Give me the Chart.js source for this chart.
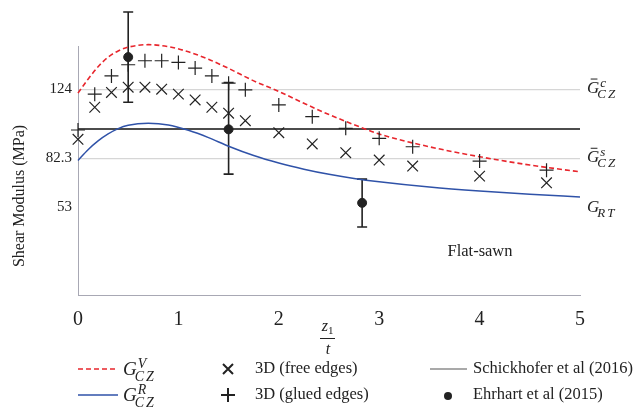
<!DOCTYPE html>
<html>
<head>
<meta charset="utf-8">
<script src="https://cdn.jsdelivr.net/npm/chart.js@4"></script>
<style>
  html, body { margin: 0; padding: 0; background: #fff; }
  #wrap { width: 637px; height: 410px; }
</style>
</head>
<body>
<div id="wrap"><canvas id="myChart" width="637" height="410"></canvas></div>
<script>
// analytical bounds, G_CZ^V (dashed) and G_CZ^R (solid)
const curveX = [0, 0.1, 0.2, 0.3, 0.4, 0.5, 0.7, 0.9, 1.1, 1.3, 1.5, 1.75, 2, 2.25, 2.5, 2.75, 3, 3.5, 4, 4.5, 5];
const gVoigt = [121.6, 130, 137.5, 143.3, 147, 149.3, 150.8, 149.6, 146.5, 142, 136.5, 129, 122.6, 115.5, 108.7, 102.6, 97, 89.3, 83.3, 78.3, 74.2];
const gReuss = [81, 87.5, 92.8, 97, 100.2, 102.2, 103.4, 102.4, 99.2, 94.8, 89.6, 84, 79.5, 75.8, 72.7, 70.2, 68.2, 65, 62.6, 60.7, 59.1];

// 3D finite element results
const feX = [0, 1/6, 1/3, 0.5, 2/3, 5/6, 1, 7/6, 4/3, 1.5, 5/3, 2, 7/3, 8/3, 3, 10/3, 4, 14/3];
const freeEdges = [93.8, 113.1, 122, 125.2, 125.2, 124, 121, 117.5, 113.1, 109.5, 105, 97.8, 91, 85.7, 81.3, 77.7, 71.6, 67.6];
const gluedEdges = [99.4, 121, 132, 138.7, 141.1, 141.1, 140.1, 136.7, 132, 127.6, 123.6, 114.5, 107.4, 100.4, 94.4, 89.3, 80.7, 75.2];

// Ehrhart et al (2015) with error bars
const ehrX = [0.5, 1.5, 2.83];
const ehrMean = [143.3, 99.8, 55.5];
const ehrLow = [116.1, 72.8, 41];
const ehrHigh = [170.5, 128, 69.8];

// Schickhofer et al (2016)
const schickhofer = 100;

const xTicks = [0, 1, 2, 3, 4, 5];
const yTicks = [53, 82.3, 124];   // G_RT, Gs_CZ, Gc_CZ

const serif = '"Liberation Serif", "Times New Roman", serif';
const ink = '#222';
const red = '#e8262d';
const blue = '#2f52a8';

const pts = (xs, ys) => xs.map((x, i) => ({ x: x, y: ys[i] }));

function mathLabel(c, x, y, base, sup, sub, bar, size) {
  c.save();
  c.fillStyle = ink;
  c.textAlign = 'left';
  c.textBaseline = 'alphabetic';
  c.font = 'italic ' + size + 'px ' + serif;
  c.fillText(base, x, y);
  const w = c.measureText(base).width;
  if (bar) c.fillRect(x + w * 0.3, y - size * 0.86, w * 0.55, 1);
  const s = Math.round(size * 0.75);
  c.font = 'italic ' + s + 'px ' + serif;
  c.letterSpacing = '2px';
  if (sup) c.fillText(sup, x + w + 1, y - size * 0.38);
  if (sub) c.fillText(sub, x + w - 2, y + size * 0.3);
  c.restore();
}

const errorBars = {
  id: 'errorBars',
  beforeDatasetsDraw(chart) {
    const c = chart.ctx, xs = chart.scales.x, ys = chart.scales.y;
    c.save();
    c.strokeStyle = ink;
    c.lineWidth = 1.6;
    ehrX.forEach((v, i) => {
      const px = xs.getPixelForValue(v);
      const lo = ys.getPixelForValue(ehrLow[i]);
      const hi = ys.getPixelForValue(ehrHigh[i]);
      c.beginPath();
      c.moveTo(px, lo); c.lineTo(px, hi);
      c.moveTo(px - 5, lo); c.lineTo(px + 5, lo);
      c.moveTo(px - 5, hi); c.lineTo(px + 5, hi);
      c.stroke();
    });
    c.restore();
  }
};

const extras = {
  id: 'extras',
  afterDraw(chart) {
    const c = chart.ctx, ys = chart.scales.y;
    const right = chart.chartArea.right;

    // labels of the reference levels
    mathLabel(c, right + 7, ys.getPixelForValue(yTicks[2]) + 4, 'G', 'c', 'CZ', true, 17);
    mathLabel(c, right + 7, ys.getPixelForValue(yTicks[1]) + 4, 'G', 's', 'CZ', true, 17);
    mathLabel(c, right + 7, ys.getPixelForValue(yTicks[0]) + 5, 'G', '', 'RT', false, 17);

    c.save();
    c.fillStyle = ink;
    // y axis title
    c.translate(20, 196);
    c.rotate(-Math.PI / 2);
    c.font = '16px ' + serif;
    c.textAlign = 'center';
    c.textBaseline = 'middle';
    c.fillText('Shear Modulus (MPa)', 0, 0);
    c.restore();

    c.save();
    c.fillStyle = ink;
    c.textBaseline = 'middle';
    // x axis title z1 / t
    c.font = 'italic 16px ' + serif;
    c.textAlign = 'right';
    c.fillText('z', 328, 327);
    c.font = '11px ' + serif;
    c.textAlign = 'left';
    c.fillText('1', 328, 331);
    c.fillRect(320, 338, 15, 1);
    c.font = 'italic 16px ' + serif;
    c.textAlign = 'center';
    c.fillText('t', 328, 350);

    c.font = '16.5px ' + serif;
    c.fillText('Flat-sawn', 480, 252);
    c.restore();

    // legend
    const r1 = 369, r2 = 395;
    c.save();
    c.lineWidth = 1.5;
    c.strokeStyle = red;
    c.setLineDash([5, 3]);
    c.beginPath(); c.moveTo(78, r1); c.lineTo(118, r1); c.stroke();
    c.setLineDash([]);
    c.strokeStyle = blue;
    c.beginPath(); c.moveTo(78, r2); c.lineTo(118, r2); c.stroke();
    c.strokeStyle = '#555';
    c.lineWidth = 1.2;
    c.beginPath(); c.moveTo(430, r1); c.lineTo(467, r1); c.stroke();
    c.strokeStyle = ink;
    c.lineWidth = 2;
    c.beginPath();
    c.moveTo(223, r1 - 5); c.lineTo(233, r1 + 5);
    c.moveTo(223, r1 + 5); c.lineTo(233, r1 - 5);
    c.moveTo(221, r2); c.lineTo(235, r2);
    c.moveTo(228, r2 - 7); c.lineTo(228, r2 + 7);
    c.stroke();
    c.fillStyle = ink;
    c.beginPath(); c.arc(448, r2 + 1, 4, 0, Math.PI * 2); c.fill();
    c.font = '16.5px ' + serif;
    c.textAlign = 'left';
    c.textBaseline = 'middle';
    c.fillText('3D (free edges)', 255, r1);
    c.fillText('3D (glued edges)', 255, r2);
    c.fillText('Schickhofer et al (2016)', 473, r1);
    c.fillText('Ehrhart et al (2015)', 473, r2);
    c.restore();
    mathLabel(c, 123, r1 + 6, 'G', 'V', 'CZ', false, 19);
    mathLabel(c, 123, r2 + 6, 'G', 'R', 'CZ', false, 19);
  }
};

new Chart(document.getElementById('myChart'), {
  type: 'scatter',
  data: {
    datasets: [
      {
        label: 'Ehrhart et al (2015)',
        data: pts(ehrX, ehrMean),
        pointStyle: 'circle',
        pointRadius: 4.5,
        backgroundColor: ink,
        borderColor: ink,
        clip: false
      },
      {
        label: '3D (free edges)',
        data: pts(feX, freeEdges),
        pointStyle: 'crossRot',
        pointRadius: 7.5,
        borderColor: ink,
        borderWidth: 1.2,
        clip: false
      },
      {
        label: '3D (glued edges)',
        data: pts(feX, gluedEdges),
        pointStyle: 'cross',
        pointRadius: 7,
        borderColor: ink,
        borderWidth: 1.2,
        clip: false
      },
      {
        type: 'line',
        label: 'G_CZ^V',
        data: pts(curveX, gVoigt),
        borderColor: red,
        borderWidth: 1.6,
        borderDash: [5, 3],
        pointRadius: 0,
        cubicInterpolationMode: 'monotone',
        clip: false
      },
      {
        type: 'line',
        label: 'G_CZ^R',
        data: pts(curveX, gReuss),
        borderColor: blue,
        borderWidth: 1.5,
        pointRadius: 0,
        cubicInterpolationMode: 'monotone',
        clip: false
      },
      {
        type: 'line',
        label: 'Schickhofer et al (2016)',
        data: pts([xTicks[0], xTicks[xTicks.length - 1]], [schickhofer, schickhofer]),
        borderColor: '#111',
        borderWidth: 1.3,
        pointRadius: 0,
        clip: false
      }
    ]
  },
  options: {
    responsive: false,
    animation: false,
    devicePixelRatio: 1,
    layout: { padding: { top: 46, right: 57, left: 0, bottom: 0 } },
    plugins: {
      legend: { display: false },
      tooltip: { enabled: false }
    },
    scales: {
      x: {
        type: 'linear',
        min: 0,
        max: 5,
        afterBuildTicks: s => { s.ticks = xTicks.map(v => ({ value: v })); },
        afterFit: s => { s.height = 115; },
        grid: { display: false },
        border: { display: true, color: '#a8a8b4', width: 1 },
        ticks: {
          padding: 5,
          color: ink,
          font: { family: serif, size: 20 },
          callback: v => String(v)
        }
      },
      y: {
        type: 'linear',
        min: 0,
        max: 150,
        afterBuildTicks: s => { s.ticks = yTicks.map(v => ({ value: v })); },
        afterFit: s => { s.width = 78; },
        grid: {
          drawTicks: false,
          lineWidth: 1.3,
          color: ctx => (ctx.tick && ctx.tick.value === yTicks[0]) ? 'rgba(0,0,0,0)' : '#d6d6d6'
        },
        border: { display: true, color: '#a8a8b4', width: 1 },
        ticks: {
          padding: 6,
          color: ink,
          font: { family: serif, size: 15 },
          callback: v => String(v)
        }
      }
    }
  },
  plugins: [errorBars, extras]
});
</script>
</body>
</html>
